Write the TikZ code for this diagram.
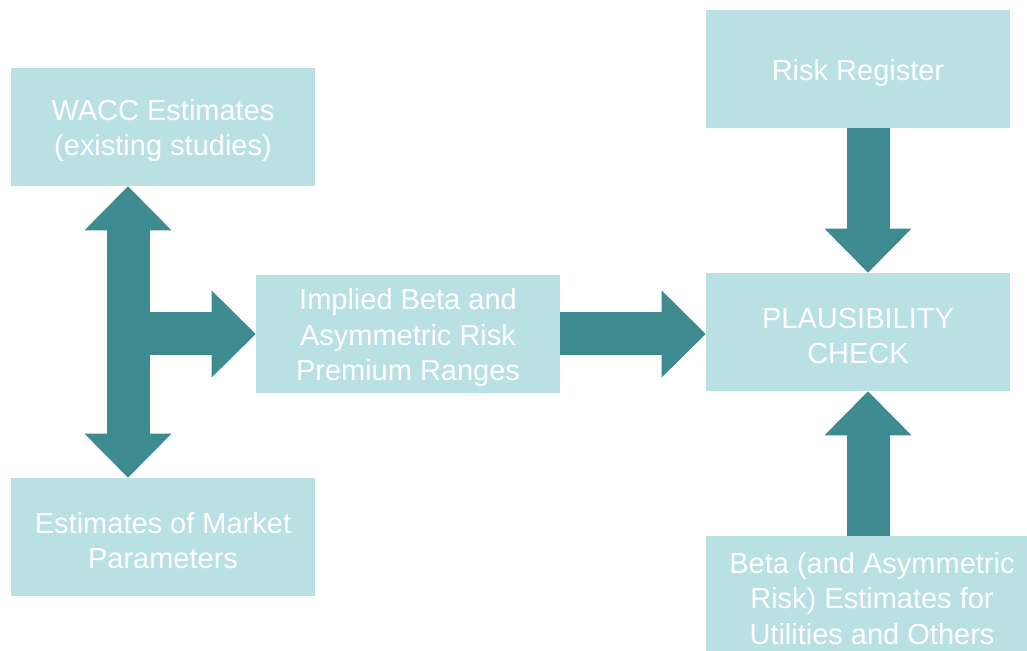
\documentclass[tikz,border=0pt]{standalone}
\usepackage{fontspec}
\setmainfont{Liberation Sans}
\usetikzlibrary{arrows.meta}

\definecolor{boxcyan}{RGB}{185,224,227}
\definecolor{arrowteal}{RGB}{61,139,144}

\newcommand{\alza}{\rule{0pt}{16pt}}

\tikzset{
    blocco/.style={rectangle, fill=boxcyan, text=white, inner sep=0pt,
        minimum width=6.08cm, minimum height=2.36cm, align=center,
        font=\fontsize{16.5}{20}\selectfont},
    freccia/.style={draw=arrowteal, line width=0.86cm,
        -{Triangle[length=0.88cm, width=1.74cm, line width=0pt]}},
    doppia/.style={draw=arrowteal, line width=0.86cm,
        {Triangle[length=0.88cm, width=1.74cm, line width=0pt]}-{Triangle[length=0.88cm, width=1.74cm, line width=0pt]}}
}

\begin{document}
\begin{tikzpicture}

        \useasboundingbox (0,0) rectangle (20.54,13.02);

        % 1. Blocchi a sinistra e al centro
        \node[blocco] (wacc) at (3.26,10.48) {\alza WACC Estimates\\(existing studies)};
        \node[blocco] (market) at (3.26,2.28) {\alza Estimates of Market\\Parameters};
        \node[blocco] (implied) at (8.16,6.34) {\alza Implied Beta and\\Asymmetric Risk\\Premium Ranges};

        % 2. Blocchi a destra
        \node[blocco] (risk) at (17.16,11.64) {\alza Risk Register};
        \node[blocco] (plaus) at (17.16,6.38) {\alza PLAUSIBILITY\\CHECK};
        \node[blocco, minimum width=6.64cm] (beta) at (17.44,1.12) {\alza Beta (and Asymmetric\\Risk) Estimates for\\Utilities and Others};

        % 3. Freccia doppia verticale e ramo verso destra
        \draw[doppia] ([xshift=-0.7cm]wacc.south) -- ([xshift=-0.7cm]market.north);
        \coordinate (nodo) at ([xshift=-0.7cm]wacc.south |- implied.west);
        \draw[freccia] (nodo) -- (implied.west);

        % 4. Freccia verso il controllo
        \draw[freccia] (implied.east) -- (implied.east -| plaus.west);

        % 5. Frecce verticali a destra
        \draw[freccia] ([xshift=0.2cm]beta.north -| plaus.south) -- ([xshift=0.2cm]plaus.south);
        \draw[freccia] ([xshift=0.2cm]risk.south) -- ([xshift=0.2cm]plaus.north);
    \end{tikzpicture}
\end{document}
